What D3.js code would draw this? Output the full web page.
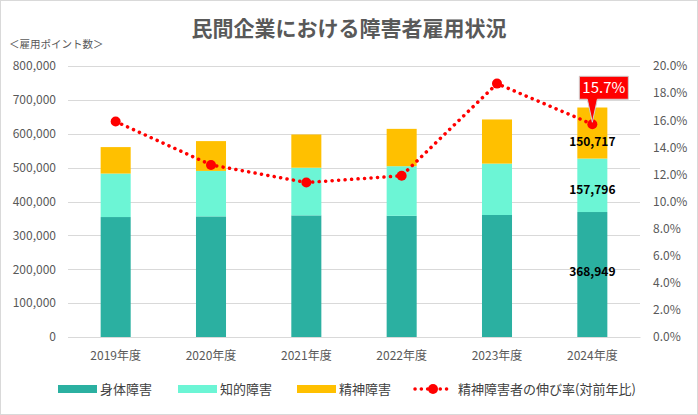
<!DOCTYPE html>
<html><head><meta charset="utf-8">
<script src="https://cdn.jsdelivr.net/npm/d3@7"></script>
<style>
html,body{margin:0;padding:0;background:#fff;}
svg{display:block;font-family:"Noto Sans CJK JP","Noto Sans",sans-serif;}
</style></head>
<body><svg id="c" width="698" height="415"></svg>
<script>
const years = ["2019年度","2020年度","2021年度","2022年度","2023年度","2024年度"];
const physical = [354134, 356069, 359067.5, 357767.5, 360157.5, 368949];
const intellectual = [128383, 134207, 140665, 146426, 151722.5, 157796];
const mental = [78091, 88016, 98053.5, 110251.5, 130298.5, 150717];
const growth = [0.159, 0.127, 0.114, 0.119, 0.187, 0.157];
const leftTicks = [0,100000,200000,300000,400000,500000,600000,700000,800000];
const rightTicks = [0,0.02,0.04,0.06,0.08,0.10,0.12,0.14,0.16,0.18,0.20];
const seriesNames = ["身体障害","知的障害","精神障害"];
const lineName = "精神障害者の伸び率(対前年比)";
const colors = ["#2BB0A1","#6CF5D5","#FFC000"];
const red = "#FF0000";

const svg = d3.select("#c");
svg.append("rect").attr("x",0.5).attr("y",0.5).attr("width",697).attr("height",414)
  .attr("fill","#fff").attr("stroke","#d9d9d9");

const x = d3.scaleBand().domain(years).range([68,640]).paddingInner(0.685).paddingOuter(0.3425);
const y = d3.scaleLinear().domain([0,800000]).range([337,66]);
const yR = d3.scaleLinear().domain([0,0.2]).range([337,66]);

// title
svg.append("text").attr("x",349).attr("y",36).attr("text-anchor","middle")
  .attr("font-size",21).attr("font-weight",700).attr("fill","#595959").text("民間企業における障害者雇用状況");
svg.append("text").attr("x",9).attr("y",48).attr("font-size",10.5).attr("fill","#595959").text("＜雇用ポイント数＞");

// gridlines
svg.append("g").selectAll("line").data(leftTicks).join("line")
  .attr("x1",68).attr("x2",640).attr("y1",d=>Math.round(y(d))+0.5).attr("y2",d=>Math.round(y(d))+0.5)
  .attr("stroke","#d9d9d9").attr("stroke-width",1);

// left axis
const la = svg.append("g").attr("transform","translate(56,0)")
  .call(d3.axisLeft(y).tickValues(leftTicks).tickSize(0).tickPadding(0).tickFormat(d3.format(",")));
la.select(".domain").remove();
la.selectAll("text").attr("font-size",12).attr("fill","#595959").attr("font-family","'Noto Sans CJK JP',sans-serif");

// right axis
const ra = svg.append("g").attr("transform","translate(653,0)")
  .call(d3.axisRight(yR).tickValues(rightTicks).tickSize(0).tickPadding(0).tickFormat(d3.format(".1%")));
ra.select(".domain").remove();
ra.selectAll("text").attr("font-size",12).attr("fill","#595959").attr("font-family","'Noto Sans CJK JP',sans-serif");

// x axis
const xa = svg.append("g").attr("transform","translate(0,337)")
  .call(d3.axisBottom(x).tickSize(0).tickPadding(14));
xa.select(".domain").attr("stroke","#d9d9d9");
xa.selectAll("text").attr("font-size",12).attr("fill","#595959").attr("font-family","'Noto Sans CJK JP',sans-serif");

// stacked bars
const rows = years.map((yr,i)=>({year:yr, p:physical[i], n:intellectual[i], m:mental[i]}));
const stack = d3.stack().keys(["p","n","m"])(rows);
svg.append("g").selectAll("g").data(stack).join("g").attr("fill",(d,i)=>colors[i])
  .selectAll("rect").data(d=>d).join("rect")
  .attr("x",d=>x(d.data.year)).attr("width",x.bandwidth())
  .attr("y",d=>y(d[1])).attr("height",d=>y(d[0])-y(d[1]));

// data labels for last year
const last = years.length-1;
const labelOffsets = [-3, 5, 9];
stack.forEach((s,k)=>{
  const d = s[last];
  svg.append("text").attr("x",x(years[last])+x.bandwidth()/2)
    .attr("y",(y(d[0])+y(d[1]))/2+labelOffsets[k]).attr("dy","0.35em")
    .attr("text-anchor","middle").attr("font-size",12).attr("font-weight",700).attr("fill","#000")
    .text(d3.format(",")(d[1]-d[0]));
});

// growth line
const cx = i=>x(years[i])+x.bandwidth()/2;
const line = d3.line().x((d,i)=>cx(i)).y(d=>yR(d));
svg.append("path").datum(growth).attr("d",line).attr("fill","none").attr("stroke",red)
  .attr("stroke-width",3.5).attr("stroke-linecap","round").attr("stroke-dasharray","0.1,6.4");
svg.append("g").selectAll("circle").data(growth).join("circle")
  .attr("cx",(d,i)=>cx(i)).attr("cy",d=>yR(d)).attr("r",5).attr("fill",red);

// callout
const px = cx(last), py = yR(growth[last]);
const bx0 = px-13, bx1 = px+36, by0 = py-48, by1 = py-25;
svg.append("path").attr("d",
  `M${bx0},${by0}H${bx1}V${by1}H${px+5}L${px},${py-2}L${px-5},${by1}H${bx0}Z`)
  .attr("fill",red).attr("stroke","#d0d0d0").attr("stroke-width",1);
svg.append("text").attr("x",(bx0+bx1)/2).attr("y",(by0+by1)/2).attr("dy","0.36em")
  .attr("text-anchor","middle").attr("font-size",15).attr("fill","#fff")
  .text(d3.format(".1%")(growth[last]));

// legend
const lg = svg.append("g").attr("font-size",13).attr("fill","#404040");
const items = [{x:58,t:seriesNames[0],c:colors[0]},{x:178,t:seriesNames[1],c:colors[1]},{x:297,t:seriesNames[2],c:colors[2]}];
items.forEach(it=>{
  lg.append("rect").attr("x",it.x).attr("y",385).attr("width",39).attr("height",8).attr("fill",it.c);
  lg.append("text").attr("x",it.x+42).attr("y",389).attr("dy","0.35em").text(it.t);
});
lg.append("line").attr("x1",415).attr("x2",452).attr("y1",389).attr("y2",389)
  .attr("stroke",red).attr("stroke-width",3.5).attr("stroke-linecap","round").attr("stroke-dasharray","0.1,6.2");
lg.append("circle").attr("cx",433).attr("cy",389).attr("r",5).attr("fill",red);
lg.append("text").attr("x",458).attr("y",389).attr("dy","0.35em").text(lineName);
</script></body></html>
